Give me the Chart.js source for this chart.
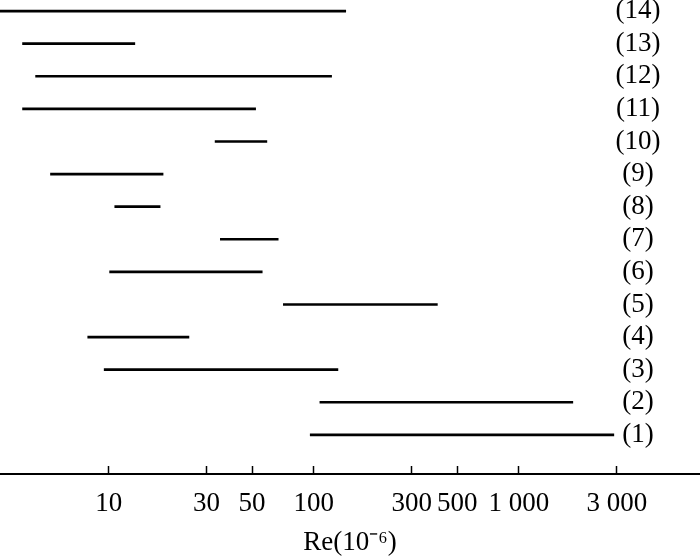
<!DOCTYPE html>
<html>
<head>
<meta charset="utf-8">
<script src="https://cdn.jsdelivr.net/npm/chart.js@4/dist/chart.umd.min.js"></script>
<style>
html,body{margin:0;padding:0;background:#fff;}
#wrap{width:700px;height:556px;}
</style>
</head>
<body>
<div id="wrap"><canvas id="c" width="700" height="556"></canvas></div>
<script>
// Row labels (bottom to top)
const rowLabels = ['(1)','(2)','(3)','(4)','(5)','(6)','(7)','(8)','(9)','(10)','(11)','(12)','(13)','(14)'];
// Re range start / end for each row (units of 10^-6)
const reStart = [96, 107, 9.5, 7.9, 71, 10.1, 35, 10.7, 5.2, 33, 3.8, 4.4, 3.8, 2.9];
const reEnd   = [2900, 1830, 131, 24.6, 400, 56, 67, 17.8, 18.4, 59, 52, 122, 13.4, 143];
// X axis ticks
const tickValues = [10, 30, 50, 100, 300, 500, 1000, 3000];
const tickLabels = ['10', '30', '50', '100', '300', '500', '1 000', '3 000'];
const axisTitle = 'Re(10\u207B\u2076)';

const FONT = "'Liberation Serif', 'Times New Roman', serif";

const data = rowLabels.map((l, i) => ({ y: i + 1, x: [reStart[i], reEnd[i]] }));

new Chart(document.getElementById('c'), {
  type: 'bar',
  data: {
    datasets: [{
      data: data,
      backgroundColor: '#000',
      borderWidth: 0,
      barThickness: 2,
      clip: false
    }]
  },
  options: {
    indexAxis: 'y',
    responsive: false,
    animation: false,
    devicePixelRatio: 1,
    layout: { padding: 0 },
    plugins: { legend: { display: false }, tooltip: { enabled: false } },
    scales: {
      x: {
        type: 'logarithmic',
        position: 'bottom',
        min: 2.95,
        max: 7630,
        afterBuildTicks: (s) => { s.ticks = tickValues.map(v => ({ value: v })); },
        afterFit: (s) => { s.height = 82; s.paddingLeft = 0; s.paddingRight = 0; },
        ticks: {
          autoSkip: false,
          maxRotation: 0,
          padding: 22,
          color: '#000',
          font: { family: FONT, size: 27 },
          callback: (v, i) => tickLabels[i]
        },
        grid: {
          display: true,
          drawOnChartArea: false,
          drawTicks: true,
          tickLength: -8,
          tickColor: '#000',
          tickWidth: 1.5
        },
        border: { display: true, color: '#000', width: 2 },
        title: {
          display: true,
          text: axisTitle,
          color: '#000',
          font: { family: FONT, size: 27, lineHeight: 1 },
          padding: { top: 0, bottom: 0 }
        }
      },
      y: {
        type: 'linear',
        position: 'right',
        offset: false,
        min: -0.2,
        max: 14.34,
        afterBuildTicks: (s) => { s.ticks = rowLabels.map((l, i) => ({ value: i + 1 })); },
        afterFit: (s) => { s.width = 0; s.paddingTop = 0; s.paddingBottom = 0; },
        ticks: {
          mirror: true,
          crossAlign: 'center',
          padding: -39.5,
          autoSkip: false,
          color: '#000',
          font: { family: FONT, size: 27, lineHeight: 0.01 },
          callback: (v) => rowLabels[v - 1]
        },
        grid: { display: false, drawTicks: false, offset: false },
        border: { display: false }
      }
    }
  }
});
</script>
</body>
</html>
